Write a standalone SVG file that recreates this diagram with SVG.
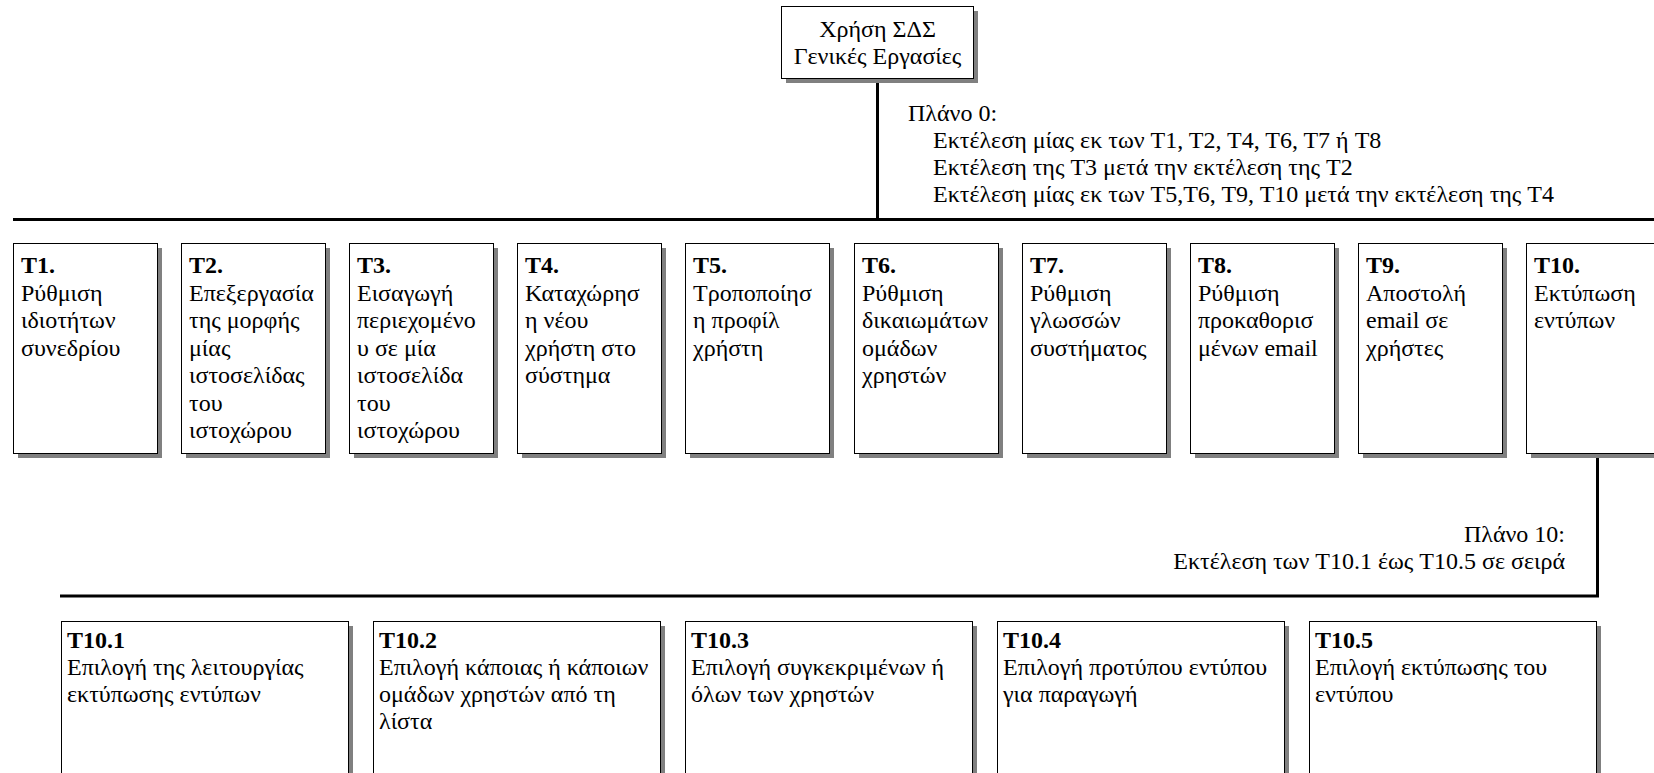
<svg xmlns="http://www.w3.org/2000/svg" width="1654" height="773" viewBox="0 0 1654 773">
<style>
.b{font-weight:bold}
.sh{fill:#808080}
.bx{fill:#fff;stroke:#000;stroke-width:1}
.ln{stroke:#000;stroke-width:3;fill:none}
</style>
<rect width="1654" height="773" fill="#fff"/>
<g id="connectors">
<line class="ln" x1="877.5" y1="78" x2="877.5" y2="219.5"/>
<line class="ln" x1="13" y1="219.5" x2="1654" y2="219.5"/>
<polyline class="ln" points="1597.5,453 1597.5,596 60,596"/>
</g>
<g id="root">
<rect class="sh" x="786" y="11" width="192" height="72"/>
<rect class="bx" x="781.5" y="6.5" width="192" height="72"/>
<text font-family="Liberation Serif" font-size="24" x="877.5" y="37" text-anchor="middle">Χρήση ΣΔΣ</text>
<text font-family="Liberation Serif" font-size="24" x="877.5" y="64" text-anchor="middle">Γενικές Εργασίες</text>
</g>
<g id="plan0">
<text font-family="Liberation Serif" font-size="24" x="908" y="121">Πλάνο 0:</text>
<text font-family="Liberation Serif" font-size="24" x="933" y="148">Εκτέλεση μίας εκ των T1, T2, T4, T6, T7 ή T8</text>
<text font-family="Liberation Serif" font-size="24" x="933" y="175">Εκτέλεση της T3 μετά την εκτέλεση της T2</text>
<text font-family="Liberation Serif" font-size="24" x="933" y="202">Εκτέλεση μίας εκ των T5,T6, T9, T10 μετά την εκτέλεση της T4</text>
</g>
<g id="T1">
<rect class="sh" x="18" y="248" width="144" height="210"/>
<rect class="bx" x="13.5" y="243.5" width="144" height="210"/>
<text font-family="Liberation Serif" font-size="24" x="21" y="273"><tspan class="b">T1.</tspan><tspan x="21" dy="27.5">Ρύθμιση</tspan><tspan x="21" dy="27.5">ιδιοτήτων</tspan><tspan x="21" dy="27.5">συνεδρίου</tspan></text>
</g>
<g id="T2">
<rect class="sh" x="186" y="248" width="144" height="210"/>
<rect class="bx" x="181.5" y="243.5" width="144" height="210"/>
<text font-family="Liberation Serif" font-size="24" x="189" y="273"><tspan class="b">T2.</tspan><tspan x="189" dy="27.5">Επεξεργασία</tspan><tspan x="189" dy="27.5">της μορφής</tspan><tspan x="189" dy="27.5">μίας</tspan><tspan x="189" dy="27.5">ιστοσελίδας</tspan><tspan x="189" dy="27.5">του</tspan><tspan x="189" dy="27.5">ιστοχώρου</tspan></text>
</g>
<g id="T3">
<rect class="sh" x="354" y="248" width="144" height="210"/>
<rect class="bx" x="349.5" y="243.5" width="144" height="210"/>
<text font-family="Liberation Serif" font-size="24" x="357" y="273"><tspan class="b">T3.</tspan><tspan x="357" dy="27.5">Εισαγωγή</tspan><tspan x="357" dy="27.5">περιεχομένο</tspan><tspan x="357" dy="27.5">υ σε μία</tspan><tspan x="357" dy="27.5">ιστοσελίδα</tspan><tspan x="357" dy="27.5">του</tspan><tspan x="357" dy="27.5">ιστοχώρου</tspan></text>
</g>
<g id="T4">
<rect class="sh" x="522" y="248" width="144" height="210"/>
<rect class="bx" x="517.5" y="243.5" width="144" height="210"/>
<text font-family="Liberation Serif" font-size="24" x="525" y="273"><tspan class="b">T4.</tspan><tspan x="525" dy="27.5">Καταχώρησ</tspan><tspan x="525" dy="27.5">η νέου</tspan><tspan x="525" dy="27.5">χρήστη στο</tspan><tspan x="525" dy="27.5">σύστημα</tspan></text>
</g>
<g id="T5">
<rect class="sh" x="690" y="248" width="144" height="210"/>
<rect class="bx" x="685.5" y="243.5" width="144" height="210"/>
<text font-family="Liberation Serif" font-size="24" x="693" y="273"><tspan class="b">T5.</tspan><tspan x="693" dy="27.5">Τροποποίησ</tspan><tspan x="693" dy="27.5">η προφίλ</tspan><tspan x="693" dy="27.5">χρήστη</tspan></text>
</g>
<g id="T6">
<rect class="sh" x="859" y="248" width="144" height="210"/>
<rect class="bx" x="854.5" y="243.5" width="144" height="210"/>
<text font-family="Liberation Serif" font-size="24" x="862" y="273"><tspan class="b">T6.</tspan><tspan x="862" dy="27.5">Ρύθμιση</tspan><tspan x="862" dy="27.5">δικαιωμάτων</tspan><tspan x="862" dy="27.5">ομάδων</tspan><tspan x="862" dy="27.5">χρηστών</tspan></text>
</g>
<g id="T7">
<rect class="sh" x="1027" y="248" width="144" height="210"/>
<rect class="bx" x="1022.5" y="243.5" width="144" height="210"/>
<text font-family="Liberation Serif" font-size="24" x="1030" y="273"><tspan class="b">T7.</tspan><tspan x="1030" dy="27.5">Ρύθμιση</tspan><tspan x="1030" dy="27.5">γλωσσών</tspan><tspan x="1030" dy="27.5">συστήματος</tspan></text>
</g>
<g id="T8">
<rect class="sh" x="1195" y="248" width="144" height="210"/>
<rect class="bx" x="1190.5" y="243.5" width="144" height="210"/>
<text font-family="Liberation Serif" font-size="24" x="1198" y="273"><tspan class="b">T8.</tspan><tspan x="1198" dy="27.5">Ρύθμιση</tspan><tspan x="1198" dy="27.5">προκαθορισ</tspan><tspan x="1198" dy="27.5">μένων email</tspan></text>
</g>
<g id="T9">
<rect class="sh" x="1363" y="248" width="144" height="210"/>
<rect class="bx" x="1358.5" y="243.5" width="144" height="210"/>
<text font-family="Liberation Serif" font-size="24" x="1366" y="273"><tspan class="b">T9.</tspan><tspan x="1366" dy="27.5">Αποστολή</tspan><tspan x="1366" dy="27.5">email σε</tspan><tspan x="1366" dy="27.5">χρήστες</tspan></text>
</g>
<g id="T10">
<rect class="sh" x="1531" y="248" width="144" height="210"/>
<rect class="bx" x="1526.5" y="243.5" width="144" height="210"/>
<text font-family="Liberation Serif" font-size="24" x="1534" y="273"><tspan class="b">T10.</tspan><tspan x="1534" dy="27.5">Εκτύπωση</tspan><tspan x="1534" dy="27.5">εντύπων</tspan></text>
</g>
<g id="plan10">
<text font-family="Liberation Serif" font-size="24" x="1565" y="542" text-anchor="end">Πλάνο 10:</text>
<text font-family="Liberation Serif" font-size="24" x="1565" y="569" text-anchor="end">Εκτέλεση των T10.1 έως T10.5 σε σειρά</text>
</g>
<g id="T10_1">
<rect class="sh" x="66" y="626" width="287" height="160"/>
<rect class="bx" x="61.5" y="621.5" width="287" height="160"/>
<text font-family="Liberation Serif" font-size="24" x="67" y="648"><tspan class="b">T10.1</tspan><tspan x="67" dy="27">Επιλογή της λειτουργίας</tspan><tspan x="67" dy="27">εκτύπωσης εντύπων</tspan></text>
</g>
<g id="T10_2">
<rect class="sh" x="378" y="626" width="287" height="160"/>
<rect class="bx" x="373.5" y="621.5" width="287" height="160"/>
<text font-family="Liberation Serif" font-size="24" x="379" y="648"><tspan class="b">T10.2</tspan><tspan x="379" dy="27">Επιλογή κάποιας ή κάποιων</tspan><tspan x="379" dy="27">ομάδων χρηστών από τη</tspan><tspan x="379" dy="27">λίστα</tspan></text>
</g>
<g id="T10_3">
<rect class="sh" x="690" y="626" width="287" height="160"/>
<rect class="bx" x="685.5" y="621.5" width="287" height="160"/>
<text font-family="Liberation Serif" font-size="24" x="691" y="648"><tspan class="b">T10.3</tspan><tspan x="691" dy="27">Επιλογή συγκεκριμένων ή</tspan><tspan x="691" dy="27">όλων των χρηστών</tspan></text>
</g>
<g id="T10_4">
<rect class="sh" x="1002" y="626" width="287" height="160"/>
<rect class="bx" x="997.5" y="621.5" width="287" height="160"/>
<text font-family="Liberation Serif" font-size="24" x="1003" y="648"><tspan class="b">T10.4</tspan><tspan x="1003" dy="27">Επιλογή προτύπου εντύπου</tspan><tspan x="1003" dy="27">για παραγωγή</tspan></text>
</g>
<g id="T10_5">
<rect class="sh" x="1314" y="626" width="287" height="160"/>
<rect class="bx" x="1309.5" y="621.5" width="287" height="160"/>
<text font-family="Liberation Serif" font-size="24" x="1315" y="648"><tspan class="b">T10.5</tspan><tspan x="1315" dy="27">Επιλογή εκτύπωσης του</tspan><tspan x="1315" dy="27">εντύπου</tspan></text>
</g>
</svg>
